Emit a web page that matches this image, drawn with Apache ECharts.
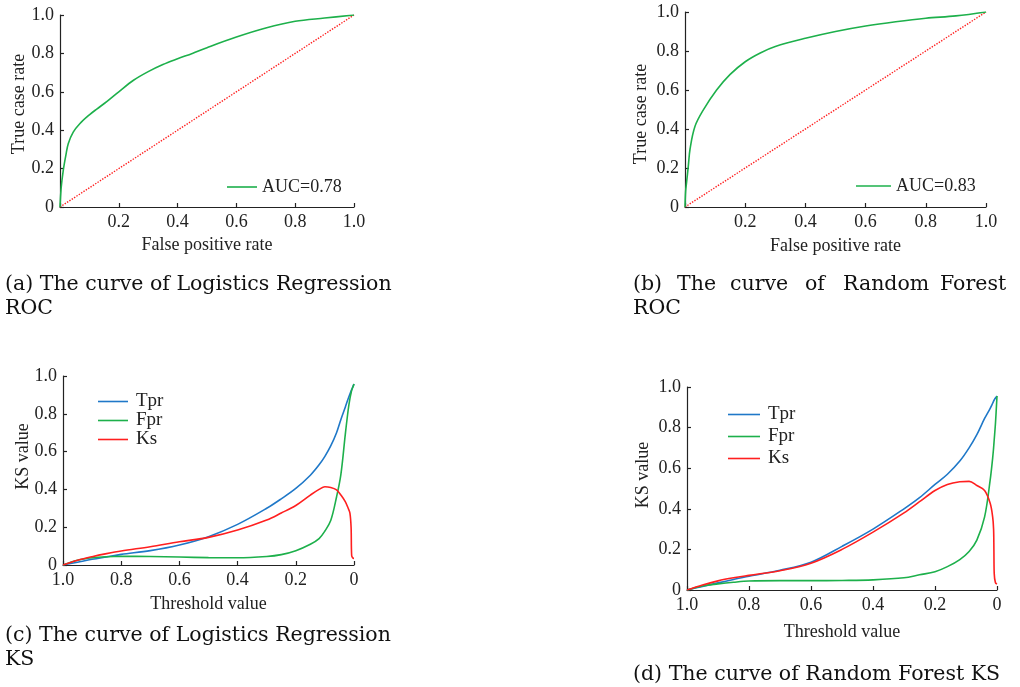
<!DOCTYPE html>
<html>
<head>
<meta charset="utf-8">
<script src="https://cdn.jsdelivr.net/npm/echarts@6/dist/echarts.min.js"></script>
<style>
  html, body { margin: 0; padding: 0; background: #fff; }
  #main { width: 1020px; height: 687px; }
</style>
</head>
<body>
<div id="main"></div>
<script>
// ROC, logistics regression
var lrRocFpr = [0, 0.004, 0.011, 0.02, 0.028, 0.045, 0.068, 0.1, 0.125, 0.16, 0.2, 0.25, 0.3, 0.35, 0.4, 0.45, 0.5, 0.6, 0.7, 0.8, 0.9, 1.0];
var lrRocTpr = [0, 0.1, 0.19, 0.27, 0.33, 0.39, 0.435, 0.48, 0.51, 0.55, 0.6, 0.66, 0.705, 0.742, 0.772, 0.8, 0.83, 0.885, 0.932, 0.967, 0.984, 1.0];
// ROC, random forest
var rfRocFpr = [0, 0.002, 0.0055, 0.011, 0.017, 0.033, 0.061, 0.105, 0.15, 0.2, 0.25, 0.3, 0.4, 0.5, 0.6, 0.7, 0.8, 0.9, 1.0];
var rfRocTpr = [0, 0.08, 0.13, 0.21, 0.3, 0.413, 0.498, 0.6, 0.68, 0.745, 0.79, 0.823, 0.865, 0.9, 0.928, 0.95, 0.968, 0.98, 1.0];
var diagonal = [0, 1];

// KS, logistics regression (threshold runs 1 -> 0)
var lrThr = [1.0, 0.95, 0.9, 0.85, 0.8, 0.7, 0.6, 0.5, 0.4, 0.3, 0.25, 0.2, 0.15, 0.12, 0.1, 0.08, 0.06, 0.045, 0.03, 0.02, 0.014, 0.01, 0.008, 0.004, 0];
var lrTpr = [0, 0.015, 0.03, 0.043, 0.056, 0.076, 0.106, 0.15, 0.215, 0.3, 0.35, 0.405, 0.475, 0.53, 0.575, 0.63, 0.7, 0.77, 0.835, 0.88, 0.905, 0.92, 0.928, 0.943, 0.958];
var lrFpr = [0, 0.025, 0.038, 0.044, 0.046, 0.045, 0.042, 0.039, 0.038, 0.045, 0.055, 0.076, 0.11, 0.14, 0.18, 0.235, 0.36, 0.48, 0.69, 0.82, 0.88, 0.91, 0.925, 0.94, 0.958];
var lrKs  = [0, 0.025, 0.044, 0.06, 0.074, 0.097, 0.123, 0.146, 0.185, 0.238, 0.275, 0.315, 0.37, 0.4, 0.414, 0.41, 0.397, 0.37, 0.335, 0.3, 0.275, 0.2, 0.05, 0.037, 0.035];

// KS, random forest
var rfThr = [1.0, 0.95, 0.9, 0.85, 0.8, 0.7, 0.6, 0.5, 0.4, 0.3, 0.25, 0.2, 0.16, 0.12, 0.09, 0.065, 0.04, 0.022, 0.014, 0.011, 0.01, 0.009, 0.005, 0];
var rfTpr = [0, 0.018, 0.035, 0.052, 0.068, 0.097, 0.137, 0.215, 0.3, 0.4, 0.455, 0.52, 0.57, 0.635, 0.7, 0.765, 0.845, 0.895, 0.92, 0.93, 0.933, 0.936, 0.946, 0.956];
var rfFpr = [0, 0.02, 0.03, 0.038, 0.044, 0.046, 0.046, 0.047, 0.05, 0.06, 0.075, 0.09, 0.115, 0.15, 0.19, 0.246, 0.36, 0.542, 0.65, 0.7, 0.72, 0.74, 0.82, 0.956];
var rfKs  = [0, 0.025, 0.045, 0.06, 0.072, 0.095, 0.132, 0.2, 0.285, 0.38, 0.435, 0.49, 0.52, 0.533, 0.535, 0.515, 0.49, 0.427, 0.36, 0.3, 0.2, 0.082, 0.036, 0.03];

var aucLr = 'AUC=0.78';
var aucRf = 'AUC=0.83';
var ksNames = ['Tpr', 'Fpr', 'Ks'];

var GREEN = '#1db04b', BLUE = '#1f78c8', RED = '#ff1f1f';
var SERIF = "'Liberation Serif', 'Times New Roman', serif";
var CAP = "'DejaVu Serif', serif";

function pairs(xs, ys) {
  return xs.map(function (x, i) { return [x, ys[i]]; });
}
function tickText(v) {
  return v === 0 ? '0' : v.toFixed(1);
}

function xAxisOf(idx, name, inverse, hideZero, gap) {
  return {
    gridIndex: idx, type: 'value', min: 0, max: 1, interval: 0.2, inverse: inverse,
    name: name, nameLocation: 'middle', nameGap: gap,
    nameTextStyle: { fontFamily: SERIF, fontSize: 18, color: '#222' },
    axisLine: { onZero: false, lineStyle: { color: '#222', width: 1.2 } },
    axisTick: { inside: true, length: 4, lineStyle: { color: '#222', width: 1.2 } },
    axisLabel: {
      fontFamily: SERIF, fontSize: 18, color: '#222', margin: 6,
      formatter: function (v) { return (hideZero && v === 0) ? '' : tickText(v); }
    },
    splitLine: { show: false }
  };
}
// pad shifts the rotated name along the axis (left pad moves it up)
function yAxisOf(idx, name, gap, pad) {
  return {
    gridIndex: idx, type: 'value', min: 0, max: 1, interval: 0.2, position: 'left',
    name: name, nameLocation: 'middle', nameGap: gap, nameMoveOverlap: false,
    nameTextStyle: { fontFamily: SERIF, fontSize: 18, color: '#222', padding: pad },
    axisLine: { show: true, onZero: false, lineStyle: { color: '#222', width: 1.2 } },
    axisTick: { show: true, inside: true, length: 4, lineStyle: { color: '#222', width: 1.2 } },
    axisLabel: { fontFamily: SERIF, fontSize: 18, color: '#222', margin: 6, formatter: tickText },
    splitLine: { show: false }
  };
}
function curve(name, idx, data, color) {
  return {
    name: name, type: 'line', xAxisIndex: idx, yAxisIndex: idx, data: data,
    symbol: 'none', smooth: 0.35,
    lineStyle: { color: color, width: 1.6 }, itemStyle: { color: color },
    silent: true, z: 3
  };
}

var chart = echarts.init(document.getElementById('main'), null, { renderer: 'canvas' });

var captionStyle = { font: '20.5px ' + CAP, fill: '#111', verticalAlign: 'middle' };
function cap(text, x, y) {
  return { type: 'text', x: x, y: y, style: Object.assign({ text: text }, captionStyle) };
}
// line (b) is justified, so its words are placed one by one
var bWords = ['(b)', 'The', 'curve', 'of', 'Random', 'Forest'];
var bWordX = [633, 677, 730, 805, 843, 940];

var graphics = [
  cap('(a) The curve of Logistics Regression', 5, 285),
  cap('ROC', 5, 309),
  cap('ROC', 633, 309),
  cap('(c) The curve of Logistics Regression', 5, 636),
  cap('KS', 5, 660),
  cap('(d) The curve of Random Forest KS', 633, 675)
];
bWords.forEach(function (w, i) { graphics.push(cap(w, bWordX[i], 285)); });

var legendText = { fontFamily: SERIF, fontSize: 18, color: '#222' };
var ksLegendText = Object.assign({}, legendText, { fontSize: 19, padding: [0, 0, 0, 3] });

chart.setOption({
  animation: false,
  backgroundColor: '#fff',
  grid: [
    { left: 60, top: 15, width: 294, height: 192 },
    { left: 685, top: 12, width: 301, height: 195 },
    { left: 63, top: 376, width: 291, height: 189 },
    { left: 687, top: 387, width: 310, height: 203 }
  ],
  xAxis: [
    xAxisOf(0, 'False positive rate', false, true, 29),
    xAxisOf(1, 'False positive rate', false, true, 30),
    xAxisOf(2, 'Threshold value', true, false, 30),
    xAxisOf(3, 'Threshold value', true, false, 33)
  ],
  yAxis: [
    yAxisOf(0, 'True case rate', 32, [0, 0, 0, 14]),
    yAxisOf(1, 'True case rate', 35, [0, 9, 0, 0]),
    yAxisOf(2, 'KS value', 31, [0, 0, 0, 28]),
    yAxisOf(3, 'KS value', 35, [0, 0, 0, 27])
  ],
  legend: [
    { data: [aucLr], left: 222, top: 173, icon: 'rect', itemWidth: 30, itemHeight: 1.6,
      textStyle: legendText, selectedMode: false },
    { data: [aucRf], left: 851, top: 172, icon: 'rect', itemWidth: 35, itemHeight: 1.6,
      textStyle: legendText, selectedMode: false },
    { data: ksNames, orient: 'vertical', left: 93, top: 387, icon: 'rect', itemWidth: 30, itemHeight: 1.6,
      itemGap: 0, textStyle: ksLegendText, selectedMode: false },
    { data: ksNames, orient: 'vertical', left: 723, top: 400, icon: 'rect', itemWidth: 32, itemHeight: 1.6,
      itemGap: 3, textStyle: ksLegendText, selectedMode: false }
  ],
  series: [
    {
      name: 'diag-a', type: 'line', xAxisIndex: 0, yAxisIndex: 0, data: pairs(diagonal, diagonal),
      symbol: 'none', lineStyle: { color: RED, width: 1.4, type: 'dotted' }, silent: true, z: 2
    },
    curve(aucLr, 0, pairs(lrRocFpr, lrRocTpr), GREEN),
    {
      name: 'diag-b', type: 'line', xAxisIndex: 1, yAxisIndex: 1, data: pairs(diagonal, diagonal),
      symbol: 'none', lineStyle: { color: RED, width: 1.4, type: 'dotted' }, silent: true, z: 2
    },
    curve(aucRf, 1, pairs(rfRocFpr, rfRocTpr), GREEN),
    curve('Tpr', 2, pairs(lrThr, lrTpr), BLUE),
    curve('Fpr', 2, pairs(lrThr, lrFpr), GREEN),
    curve('Ks', 2, pairs(lrThr, lrKs), RED),
    curve('Tpr', 3, pairs(rfThr, rfTpr), BLUE),
    curve('Fpr', 3, pairs(rfThr, rfFpr), GREEN),
    curve('Ks', 3, pairs(rfThr, rfKs), RED)
  ],
  graphic: graphics
});
</script>
</body>
</html>
